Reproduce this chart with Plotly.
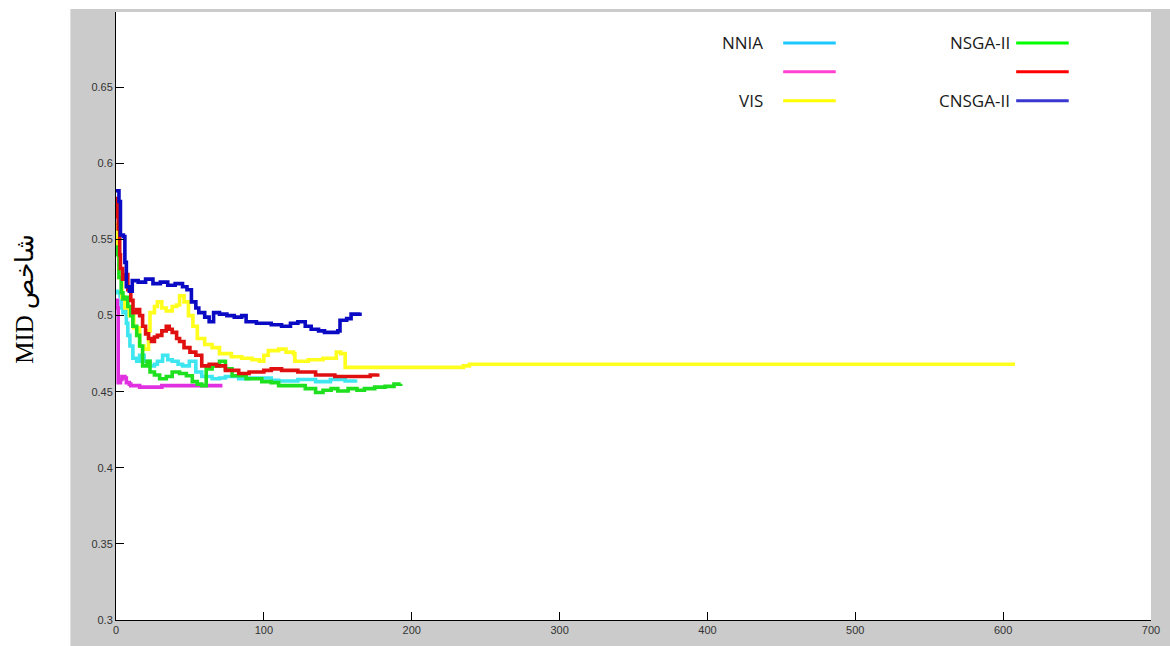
import plotly.graph_objects as go

# ---------------- data ----------------
series_names = ["NNIA", "", "VIS", "NSGA-II", "", "CNSGA-II"]

nnia_x = [0, 1, 2.7, 3.5, 4.7, 6, 7, 8, 9.4, 11.4, 14, 16, 19, 23, 26, 28, 31.5, 35, 38, 42, 45,
          49.6, 54, 58, 65, 70, 74, 83, 90, 97, 105, 110, 123, 135, 145, 155, 162]
nnia_y = [0.516, 0.515, 0.513, 0.505, 0.502, 0.506, 0.495, 0.487, 0.480, 0.472, 0.470, 0.474, 0.470,
          0.467, 0.468, 0.470, 0.474, 0.471, 0.470, 0.468, 0.467, 0.470, 0.463, 0.460, 0.4585, 0.459,
          0.460, 0.4585, 0.459, 0.459, 0.4575, 0.457, 0.458, 0.4566, 0.458, 0.457, 0.458]

mag_x = [0, 1, 1.5, 3, 4, 6, 7, 9, 10, 16, 30, 31, 72]
mag_y = [0.510, 0.505, 0.456, 0.458, 0.460, 0.459, 0.456, 0.455, 0.454, 0.453, 0.453, 0.454, 0.454]

vis_x = [0, 1, 2, 4, 6, 9, 12, 16, 19, 22, 23, 26, 28, 31, 34, 38, 41, 43, 46, 49, 52, 55, 60, 65,
         70, 78, 85, 92, 97, 100, 103, 110, 115, 120, 121, 130, 140, 146, 149, 152, 155, 200, 232,
         235, 239, 608]
vis_y = [0.560, 0.545, 0.525, 0.512, 0.505, 0.500, 0.492, 0.480, 0.478, 0.490, 0.502, 0.506, 0.509,
         0.505, 0.503, 0.506, 0.507, 0.513, 0.509, 0.500, 0.493, 0.485, 0.481, 0.479, 0.475, 0.473,
         0.472, 0.471, 0.470, 0.474, 0.477, 0.478, 0.476, 0.475, 0.470, 0.471, 0.472, 0.472, 0.476,
         0.475, 0.466, 0.466, 0.466, 0.467, 0.468, 0.468]

nsga_x = [0, 1, 2, 3.5, 4.7, 6, 8, 10, 11.4, 14, 16, 18, 21, 23, 26, 29.5, 34, 38, 43, 47.6, 51.6,
          55, 58, 61, 65, 70, 74, 78.5, 88, 98.6, 105, 110, 123, 128, 135, 140, 145.5, 150, 157,
          163, 168, 175, 182, 188, 192.5]
nsga_y = [0.545, 0.540, 0.525, 0.515, 0.511, 0.512, 0.506, 0.500, 0.493, 0.487, 0.480, 0.467, 0.470,
          0.463, 0.461, 0.4585, 0.460, 0.463, 0.462, 0.4605, 0.4566, 0.455, 0.454, 0.465, 0.467,
          0.470, 0.465, 0.4605, 0.4585, 0.4566, 0.456, 0.454, 0.454, 0.452, 0.4495, 0.451, 0.452,
          0.4505, 0.452, 0.451, 0.452, 0.453, 0.4535, 0.455, 0.4553]

red_x = [0, 1, 1.5, 2.5, 3, 4.5, 6, 8, 10, 11.5, 14, 16, 18, 20, 22, 24, 26, 28, 31, 34, 36, 38, 41,
         43, 46, 50, 54, 58, 63, 68, 74, 83, 90, 95, 100, 105, 112, 123, 135, 148, 157, 166, 172, 177]
red_y = [0.577, 0.565, 0.557, 0.540, 0.531, 0.524, 0.527, 0.517, 0.510, 0.502, 0.504, 0.500, 0.493,
         0.488, 0.485, 0.483, 0.486, 0.487, 0.490, 0.493, 0.491, 0.489, 0.485, 0.483, 0.479, 0.476,
         0.474, 0.467, 0.468, 0.467, 0.464, 0.462, 0.463, 0.463, 0.464, 0.465, 0.464, 0.463, 0.461,
         0.460, 0.460, 0.460, 0.461, 0.462]

cnsga_x = [0, 2, 3, 5, 6, 7, 9, 11, 15, 20, 25, 30, 35, 40, 45, 48, 51, 54, 56, 60, 63, 66, 70, 75,
           80, 85, 88, 95, 100, 105, 112, 118, 123, 128, 132, 137, 141, 150, 151.5, 156, 159, 165]
cnsga_y = [0.582, 0.575, 0.553, 0.552, 0.535, 0.519, 0.516, 0.523, 0.522, 0.524, 0.521, 0.522, 0.520,
           0.521, 0.519, 0.517, 0.509, 0.505, 0.502, 0.499, 0.496, 0.502, 0.501, 0.500, 0.499, 0.500,
           0.496, 0.495, 0.495, 0.494, 0.493, 0.495, 0.496, 0.493, 0.491, 0.490, 0.489, 0.490, 0.497,
           0.498, 0.501, 0.502]

x_ticks = [0, 100, 200, 300, 400, 500, 600, 700]
y_ticks = [0.3, 0.35, 0.4, 0.45, 0.5, 0.55, 0.6, 0.65]
y_label = "MID شاخص"

line_colors = ["#3ee6f0", "#e030e0", "#ffff1e", "#1ee01e", "#e01010", "#0a0ac4"]
legend_colors = ["#1cc8ff", "#ff40d0", "#ffff00", "#00ff00", "#ff0000", "#3838d0"]

xs = [nnia_x, mag_x, vis_x, nsga_x, red_x, cnsga_x]
ys = [nnia_y, mag_y, vis_y, nsga_y, red_y, cnsga_y]

fig = go.Figure()
for i in range(6):
    fig.add_trace(go.Scatter(
        x=xs[i], y=ys[i], mode="lines", line_shape="hv",
        line=dict(color=line_colors[i], width=3.6),
        name=series_names[i] or "series %d" % i, showlegend=False))

W, H = 1170, 646
L, R, T, B = 116, 10, 12, 24
pw, ph = W - L - R, H - T - B

def px2x(px):
    return (px - L) / pw

def py2y(py):
    return (H - B - py) / ph

shapes = [
    # white axes area
    dict(type="rect", xref="paper", yref="paper", x0=0, x1=1, y0=0, y1=1,
         fillcolor="white", line=dict(width=0), layer="below"),
    # white outside the grey frame (left and top strips)
    dict(type="rect", xref="paper", yref="paper", x0=px2x(-10), x1=px2x(70),
         y0=py2y(700), y1=py2y(-10), fillcolor="white", line=dict(width=0), layer="below"),
    dict(type="rect", xref="paper", yref="paper", x0=px2x(-10), x1=px2x(1200),
         y0=py2y(9), y1=py2y(-10), fillcolor="white", line=dict(width=0), layer="below"),
]

annotations = []
rows_py = [43, 72, 101]
cols = [(770, 789, 842), (1019, 1024, 1077)]
for i in range(6):
    col, row = divmod(i, 3)
    tx, lx0, lx1 = cols[col]
    yy = py2y(rows_py[row])
    shapes.append(dict(type="line", xref="paper", yref="paper", x0=px2x(lx0), x1=px2x(lx1),
                       y0=yy, y1=yy, line=dict(color=legend_colors[i], width=3)))
    if series_names[i]:
        annotations.append(dict(xref="paper", yref="paper", x=px2x(tx + 1), y=yy,
                                text=series_names[i], showarrow=False, xanchor="right",
                                yanchor="middle",
                                font=dict(family="Open Sans", size=17, color="#1a1a1a")))

annotations.append(dict(xref="paper", yref="paper", x=px2x(24), y=py2y(300), text=y_label,
                        textangle=-90, showarrow=False, xanchor="center", yanchor="middle",
                        font=dict(family="Liberation Serif, DejaVu Serif", size=25, color="black")))

fig.update_layout(
    width=W, height=H,
    margin=dict(l=L, r=R, t=T, b=B, pad=0),
    paper_bgcolor="#cbcbcb", plot_bgcolor="rgba(0,0,0,0)",
    shapes=shapes, annotations=annotations, showlegend=False,
    xaxis=dict(range=[0, 700], tickvals=x_ticks, ticks="inside", ticklen=8, tickcolor="black",
               showline=True, linecolor="black", linewidth=1, showgrid=False, zeroline=False,
               ticklabeloverflow="allow",
               tickfont=dict(family="Liberation Sans", size=11, color="#333333")),
    yaxis=dict(range=[0.3, 0.6995], tickvals=y_ticks, ticks="inside", ticklen=8, tickcolor="black",
               showline=True, linecolor="black", linewidth=1, showgrid=False, zeroline=False,
               tickfont=dict(family="Liberation Sans", size=11, color="#333333")),
)

fig.write_html("out.html",
               post_script="document.body.style.margin='0';document.body.style.overflow='hidden';")
